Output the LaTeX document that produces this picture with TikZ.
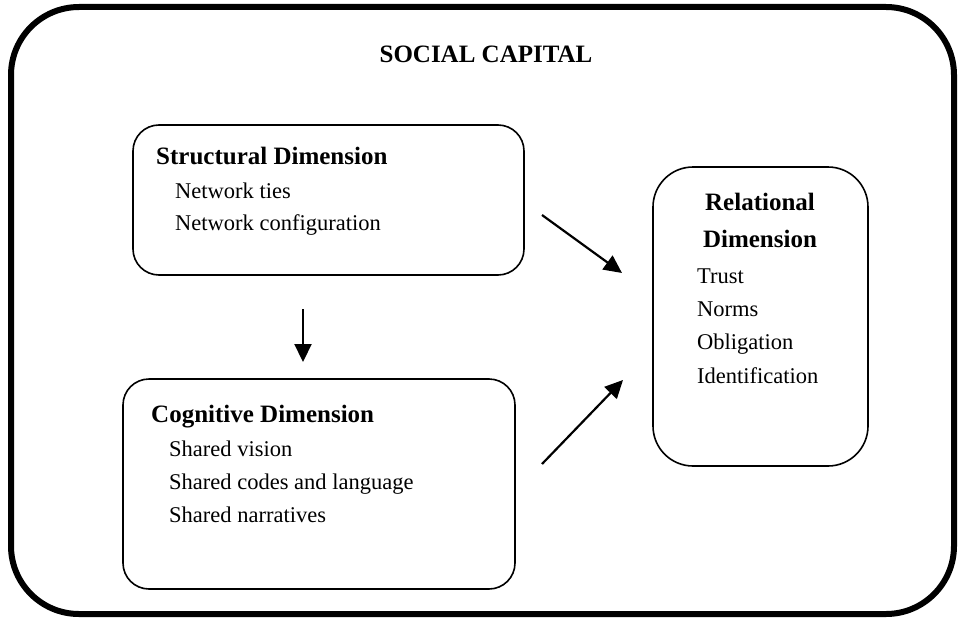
\documentclass[tikz,border=0pt]{standalone}
\usepackage{fontspec}
\setmainfont{Liberation Serif}
\usetikzlibrary{arrows.meta}
\begin{document}
\begin{tikzpicture}[x=1pt,y=-1pt,
  box/.style={draw,line width=1.6pt,rounded corners=26pt,inner sep=0pt},
  head/.style={inner sep=0pt,font=\fontsize{25}{30}\selectfont\bfseries},
  item/.style={anchor=base west,inner sep=0pt,font=\fontsize{22.5}{27}\selectfont},
  arr/.style={line width=2.2pt,-{Triangle[length=18pt,width=17pt]}}]
\useasboundingbox (0,0) rectangle (958,618);
\draw[line width=6pt,rounded corners=68pt] (11,7) rectangle (954,614);
\node[head,anchor=base] (title) at (486,63) {SOCIAL CAPITAL};
% boxes
\node[box,minimum width=391pt,minimum height=150pt] (struct) at (328.5,200) {};
\node[box,minimum width=392pt,minimum height=210pt] (cog) at (319,484) {};
\node[box,rounded corners=40pt,minimum width=215pt,minimum height=299pt] (rel) at (760.5,316.5) {};
% structural
\node[head,anchor=base west] (sh) at (156,164) {Structural Dimension};
\node[item] (s1) at (175,198) {Network ties};
\node[item] (s2) at (175,230) {Network configuration};
% cognitive
\node[head,anchor=base west] (ch) at (151,422) {Cognitive Dimension};
\node[item] (c1) at (169,456) {Shared vision};
\node[item] (c2) at (169,489) {Shared codes and language};
\node[item] (c3) at (169,522) {Shared narratives};
% relational
\node[head,anchor=base] (rh1) at (760,210) {Relational};
\node[head,anchor=base] (rh2) at (760,247) {Dimension};
\node[item] (r1) at (697,283) {Trust};
\node[item] (r2) at (697,316) {Norms};
\node[item] (r3) at (697,349) {Obligation};
\node[item] (r4) at (697,383) {Identification};
% arrows
\coordinate (a1s) at (542,215);
\coordinate (a1e) at (622,273);
\coordinate (a2s) at (542,464);
\coordinate (a2e) at (623,380);
\coordinate (a3s) at (303,309);
\coordinate (a3e) at (303,362);
\draw[arr] (a1s) -- (a1e);
\draw[arr] (a2s) -- (a2e);
\draw[arr] (a3s) -- (a3e);
\end{tikzpicture}
\end{document}
